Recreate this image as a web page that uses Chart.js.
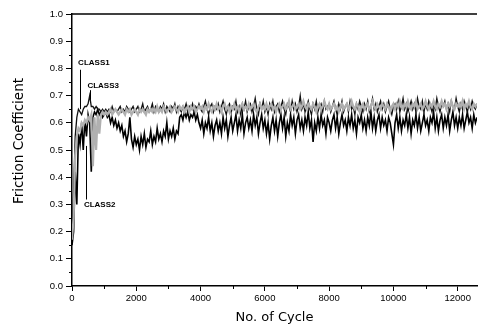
<!DOCTYPE html>
<html>
<head>
<meta charset="utf-8">
<script src="https://cdn.jsdelivr.net/npm/chart.js@4.4.1/dist/chart.umd.min.js"></script>
<style>
  html, body { margin: 0; padding: 0; background: #fff; }
  #wrap { width: 478px; height: 327px; }
</style>
</head>
<body>
<div id="wrap"><canvas id="chart" width="478" height="327"></canvas></div>
<script>
// sampling grid (cycles): every 50 cycles
const cycles = [
  0, 50, 100, 150, 200, 250, 300, 350, 400, 450, 500, 550, 600, 650, 700, 750, 800, 850, 900, 950, 1000,
  1050, 1100, 1150, 1200, 1250, 1300, 1350, 1400, 1450, 1500,
  1550, 1600, 1650, 1700, 1750, 1800, 1850, 1900, 1950, 2000,
  2050, 2100, 2150, 2200, 2250, 2300, 2350, 2400, 2450, 2500,
  2550, 2600, 2650, 2700, 2750, 2800, 2850, 2900, 2950, 3000,
  3050, 3100, 3150, 3200, 3250, 3300, 3350, 3400, 3450, 3500,
  3550, 3600, 3650, 3700, 3750, 3800, 3850, 3900, 3950, 4000,
  4050, 4100, 4150, 4200, 4250, 4300, 4350, 4400, 4450, 4500,
  4550, 4600, 4650, 4700, 4750, 4800, 4850, 4900, 4950, 5000,
  5050, 5100, 5150, 5200, 5250, 5300, 5350, 5400, 5450, 5500,
  5550, 5600, 5650, 5700, 5750, 5800, 5850, 5900, 5950, 6000,
  6050, 6100, 6150, 6200, 6250, 6300, 6350, 6400, 6450, 6500,
  6550, 6600, 6650, 6700, 6750, 6800, 6850, 6900, 6950, 7000,
  7050, 7100, 7150, 7200, 7250, 7300, 7350, 7400, 7450, 7500,
  7550, 7600, 7650, 7700, 7750, 7800, 7850, 7900, 7950, 8000,
  8050, 8100, 8150, 8200, 8250, 8300, 8350, 8400, 8450, 8500,
  8550, 8600, 8650, 8700, 8750, 8800, 8850, 8900, 8950, 9000,
  9050, 9100, 9150, 9200, 9250, 9300, 9350, 9400, 9450, 9500,
  9550, 9600, 9650, 9700, 9750, 9800, 9850, 9900, 9950, 10000,
  10050, 10100, 10150, 10200, 10250, 10300, 10350, 10400, 10450, 10500,
  10550, 10600, 10650, 10700, 10750, 10800, 10850, 10900, 10950, 11000,
  11050, 11100, 11150, 11200, 11250, 11300, 11350, 11400, 11450, 11500,
  11550, 11600, 11650, 11700, 11750, 11800, 11850, 11900, 11950, 12000,
  12050, 12100, 12150, 12200, 12250, 12300, 12350, 12400, 12450, 12500,
  12550, 12600
];

const class1 = [
  0.20, 0.35, 0.55, 0.62, 0.65, 0.64, 0.63, 0.65, 0.66, 0.66, 0.67, 0.70, 0.66, 0.66, 0.65, 0.66, 0.65, 0.65, 0.64, 0.65, 0.64,
  0.65, 0.64, 0.65, 0.64, 0.66, 0.64, 0.65, 0.64, 0.65, 0.66,
  0.64, 0.65, 0.64, 0.66, 0.65, 0.64, 0.65, 0.66, 0.64, 0.65,
  0.66, 0.64, 0.65, 0.67, 0.64, 0.65, 0.66, 0.64, 0.65, 0.67,
  0.64, 0.66, 0.65, 0.64, 0.66, 0.65, 0.67, 0.64, 0.66, 0.65,
  0.64, 0.66, 0.65, 0.67, 0.64, 0.66, 0.65, 0.64, 0.66, 0.65,
  0.67, 0.64, 0.66, 0.65, 0.67, 0.64, 0.66, 0.65, 0.67, 0.65,
  0.64, 0.66, 0.68, 0.65, 0.63, 0.66, 0.67, 0.64, 0.66, 0.65,
  0.67, 0.64, 0.66, 0.68, 0.65, 0.63, 0.66, 0.67, 0.64, 0.66,
  0.65, 0.68, 0.64, 0.66, 0.63, 0.67, 0.65, 0.68, 0.64, 0.66,
  0.67, 0.64, 0.66, 0.69, 0.65, 0.63, 0.67, 0.65, 0.68, 0.64,
  0.66, 0.63, 0.67, 0.65, 0.68, 0.64, 0.66, 0.67, 0.64, 0.66,
  0.68, 0.65, 0.63, 0.67, 0.66, 0.64, 0.68, 0.65, 0.67, 0.64,
  0.66, 0.70, 0.65, 0.67, 0.64, 0.66, 0.68, 0.65, 0.63, 0.67,
  0.65, 0.68, 0.64, 0.66, 0.67, 0.64, 0.68, 0.65, 0.66, 0.67,
  0.64, 0.66, 0.68, 0.65, 0.63, 0.67, 0.65, 0.68, 0.64, 0.66,
  0.67, 0.64, 0.68, 0.65, 0.66, 0.63, 0.67, 0.65, 0.68, 0.66,
  0.64, 0.67, 0.65, 0.68, 0.64, 0.66, 0.69, 0.65, 0.67, 0.64,
  0.66, 0.68, 0.65, 0.67, 0.64, 0.66, 0.68, 0.65, 0.63, 0.66,
  0.67, 0.65, 0.68, 0.64, 0.66, 0.69, 0.65, 0.67, 0.64, 0.66,
  0.68, 0.65, 0.67, 0.64, 0.69, 0.66, 0.65, 0.68, 0.64, 0.67,
  0.65, 0.68, 0.66, 0.64, 0.67, 0.65, 0.69, 0.66, 0.64, 0.67,
  0.66, 0.68, 0.65, 0.67, 0.64, 0.68, 0.66, 0.65, 0.69, 0.66,
  0.64, 0.67, 0.65, 0.68, 0.66, 0.64, 0.67, 0.65, 0.68, 0.66,
  0.65, 0.67
];

const class2 = [
  0.15, 0.20, 0.42, 0.30, 0.56, 0.52, 0.60, 0.50, 0.61, 0.55, 0.63, 0.60, 0.42, 0.62, 0.64, 0.63, 0.65, 0.63, 0.64, 0.62, 0.63,
  0.64, 0.62, 0.63, 0.60, 0.62, 0.59, 0.61, 0.58, 0.60, 0.57,
  0.59, 0.55, 0.57, 0.53, 0.56, 0.62, 0.54, 0.51, 0.55, 0.52,
  0.54, 0.50, 0.55, 0.52, 0.56, 0.51, 0.54, 0.53, 0.57, 0.52,
  0.55, 0.53, 0.58, 0.54, 0.56, 0.53, 0.57, 0.55, 0.60, 0.54,
  0.57, 0.55, 0.58, 0.54, 0.57, 0.56, 0.62, 0.63, 0.61, 0.64,
  0.62, 0.64, 0.61, 0.63, 0.62, 0.64, 0.61, 0.63, 0.60, 0.58,
  0.61, 0.56, 0.60, 0.58, 0.62, 0.57, 0.60, 0.55, 0.59, 0.61,
  0.57, 0.60, 0.56, 0.62, 0.58, 0.61, 0.55, 0.59, 0.62, 0.57,
  0.60, 0.63, 0.57, 0.61, 0.58, 0.63, 0.56, 0.60, 0.62, 0.58,
  0.61, 0.57, 0.63, 0.59, 0.62, 0.56, 0.60, 0.63, 0.58, 0.61,
  0.56, 0.60, 0.54, 0.59, 0.62, 0.57, 0.61, 0.55, 0.60, 0.63,
  0.58, 0.62, 0.55, 0.60, 0.57, 0.63, 0.59, 0.62, 0.56, 0.61,
  0.63, 0.58, 0.61, 0.57, 0.62, 0.59, 0.64, 0.58, 0.61, 0.53,
  0.60, 0.57, 0.62, 0.58, 0.63, 0.59, 0.61, 0.56, 0.62, 0.60,
  0.57, 0.61, 0.63, 0.58, 0.62, 0.56, 0.60, 0.63, 0.59, 0.61,
  0.57, 0.62, 0.59, 0.63, 0.58, 0.61, 0.56, 0.62, 0.60, 0.63,
  0.58, 0.61, 0.57, 0.62, 0.59, 0.64, 0.58, 0.62, 0.57, 0.61,
  0.63, 0.58, 0.62, 0.59, 0.61, 0.57, 0.62, 0.60, 0.56, 0.52,
  0.60, 0.63, 0.58, 0.62, 0.57, 0.61, 0.59, 0.63, 0.58, 0.62,
  0.56, 0.61, 0.59, 0.63, 0.58, 0.62, 0.57, 0.60, 0.63, 0.59,
  0.61, 0.57, 0.62, 0.60, 0.64, 0.58, 0.62, 0.57, 0.61, 0.63,
  0.58, 0.62, 0.59, 0.63, 0.57, 0.61, 0.64, 0.59, 0.62, 0.58,
  0.62, 0.59, 0.63, 0.58, 0.61, 0.64, 0.60, 0.62, 0.58, 0.63,
  0.60, 0.62
];

const class3 = [
  0.17, 0.25, 0.48, 0.55, 0.58, 0.57, 0.60, 0.59, 0.61, 0.60, 0.62, 0.61, 0.63, 0.44, 0.62, 0.50, 0.63, 0.56, 0.63, 0.64, 0.63,
  0.64, 0.63, 0.64, 0.65, 0.63, 0.64, 0.65, 0.64, 0.63, 0.64,
  0.65, 0.64, 0.63, 0.65, 0.64, 0.65, 0.63, 0.64, 0.65, 0.64,
  0.63, 0.65, 0.64, 0.65, 0.64, 0.63, 0.65, 0.64, 0.65, 0.64,
  0.65, 0.64, 0.66, 0.64, 0.65, 0.64, 0.66, 0.65, 0.64, 0.65,
  0.66, 0.64, 0.65, 0.66, 0.65, 0.64, 0.66, 0.65, 0.66, 0.64,
  0.65, 0.66, 0.64, 0.66, 0.65, 0.66, 0.64, 0.65, 0.66, 0.65,
  0.66, 0.64, 0.66, 0.65, 0.67, 0.65, 0.64, 0.66, 0.65, 0.67,
  0.65, 0.66, 0.64, 0.66, 0.67, 0.65, 0.66, 0.64, 0.66, 0.65,
  0.67, 0.65, 0.66, 0.64, 0.66, 0.67, 0.65, 0.66, 0.65, 0.67,
  0.65, 0.66, 0.67, 0.65, 0.64, 0.66, 0.67, 0.65, 0.66, 0.65,
  0.67, 0.65, 0.66, 0.67, 0.65, 0.66, 0.64, 0.66, 0.67, 0.65,
  0.66, 0.67, 0.65, 0.66, 0.68, 0.65, 0.66, 0.67, 0.65, 0.66,
  0.67, 0.65, 0.66, 0.68, 0.66, 0.65, 0.67, 0.66, 0.65, 0.67,
  0.66, 0.64, 0.66, 0.67, 0.65, 0.66, 0.68, 0.66, 0.65, 0.67,
  0.65, 0.66, 0.67, 0.65, 0.66, 0.64, 0.66, 0.67, 0.65, 0.66,
  0.67, 0.65, 0.66, 0.68, 0.66, 0.65, 0.67, 0.66, 0.64, 0.66,
  0.67, 0.65, 0.66, 0.67, 0.65, 0.66, 0.68, 0.66, 0.65, 0.67,
  0.66, 0.65, 0.67, 0.66, 0.65, 0.67, 0.66, 0.64, 0.66, 0.67,
  0.65, 0.67, 0.66, 0.68, 0.66, 0.65, 0.67, 0.66, 0.68, 0.66,
  0.65, 0.67, 0.66, 0.68, 0.65, 0.66, 0.67, 0.65, 0.66, 0.68,
  0.66, 0.65, 0.67, 0.66, 0.68, 0.66, 0.65, 0.67, 0.66, 0.68,
  0.66, 0.67, 0.65, 0.67, 0.66, 0.68, 0.66, 0.65, 0.67, 0.66,
  0.67, 0.66, 0.68, 0.65, 0.67, 0.66, 0.68, 0.66, 0.65, 0.67,
  0.66, 0.67
];

const xTicks = [0, 2000, 4000, 6000, 8000, 10000, 12000];

// curve labels with their pointer lines (data units)
const notes = [
  { text: 'CLASS1', x: 190, y: 0.82, px: 240, from: 0.795, to: 0.65 },
  { text: 'CLASS3', x: 480, y: 0.736, px: 560, from: 0.72, to: 0.685 },
  { text: 'CLASS2', x: 370, y: 0.30,  px: 430, from: 0.318, to: 0.515 }
];

function pts(values) {
  return cycles.map((c, i) => ({ x: c, y: values[i] }));
}

const extras = {
  id: 'extras',
  afterDraw(chart) {
    const ctx = chart.ctx;
    const area = chart.chartArea;
    const xs = chart.scales.x;
    const ys = chart.scales.y;
    ctx.save();
    ctx.strokeStyle = '#000';
    // top frame line
    ctx.lineWidth = 1.5;
    ctx.beginPath();
    ctx.moveTo(area.left, area.top);
    ctx.lineTo(area.right, area.top);
    ctx.stroke();
    // minor ticks
    ctx.lineWidth = 1;
    ctx.beginPath();
    for (let v = 0.05; v < 1; v += 0.1) {
      const y = Math.round(ys.getPixelForValue(v)) + 0.5;
      ctx.moveTo(area.left - 3, y);
      ctx.lineTo(area.left, y);
    }
    for (let c = 1000; c < xs.max; c += 2000) {
      const x = Math.round(xs.getPixelForValue(c)) + 0.5;
      ctx.moveTo(x, area.bottom);
      ctx.lineTo(x, area.bottom + 3);
    }
    ctx.stroke();
    // curve labels
    ctx.fillStyle = '#000';
    ctx.font = 'bold 8px "Liberation Sans", Arial, sans-serif';
    ctx.textBaseline = 'middle';
    ctx.lineWidth = 1;
    notes.forEach(n => {
      ctx.fillText(n.text, xs.getPixelForValue(n.x), ys.getPixelForValue(n.y));
      const x = Math.round(xs.getPixelForValue(n.px)) + 0.5;
      ctx.beginPath();
      ctx.moveTo(x, ys.getPixelForValue(n.from));
      ctx.lineTo(x, ys.getPixelForValue(n.to));
      ctx.stroke();
    });
    // y axis title
    ctx.font = '13.5px "DejaVu Sans", sans-serif';
    ctx.textAlign = 'center';
    ctx.translate(19, 141);
    ctx.rotate(-Math.PI / 2);
    ctx.fillText('Friction Coefficient', 0, 0);
    ctx.restore();
  }
};

const tickFont = { family: '"Liberation Sans", Arial, sans-serif', size: 9.5 };
const titleFont = { family: '"DejaVu Sans", sans-serif', size: 13 };

new Chart(document.getElementById('chart'), {
  type: 'line',
  data: {
    datasets: [
      { label: 'CLASS3', data: pts(class3), borderColor: '#b0b0b0', borderWidth: 2.2, order: 0 },
      { label: 'CLASS1', data: pts(class1), borderColor: '#111', borderWidth: 1.3, order: 1 },
      { label: 'CLASS2', data: pts(class2), borderColor: '#000', borderWidth: 1.6, order: 2 }
    ]
  },
  options: {
    responsive: false,
    animation: false,
    layout: { padding: { top: 14, right: 1, left: 0, bottom: 0 } },
    elements: { point: { radius: 0 }, line: { tension: 0 } },
    plugins: { legend: { display: false }, tooltip: { enabled: false } },
    scales: {
      x: {
        type: 'linear',
        min: 0,
        max: 12600,
        afterFit: s => { s.height = 41; },
        afterBuildTicks: s => { s.ticks = xTicks.map(v => ({ value: v })); },
        border: { color: '#000', width: 1.5 },
        grid: { drawOnChartArea: false, drawTicks: true, tickLength: 5, tickColor: '#000', tickWidth: 1 },
        ticks: { color: '#000', font: tickFont, padding: 2, maxRotation: 0, autoSkip: false,
                 callback: v => String(v) },
        title: { display: true, text: 'No. of Cycle', color: '#000', font: titleFont, padding: { top: 0, bottom: 2 } }
      },
      y: {
        min: 0,
        max: 1,
        afterFit: s => { s.width = 72; },
        border: { color: '#000', width: 1.5 },
        grid: { drawOnChartArea: false, drawTicks: true, tickLength: 6, tickColor: '#000', tickWidth: 1 },
        ticks: { stepSize: 0.1, includeBounds: false, color: '#000', font: tickFont, padding: 3,
                 callback: v => v.toFixed(1) },
        title: { display: false }
      }
    }
  },
  plugins: [extras]
});
</script>
</body>
</html>
